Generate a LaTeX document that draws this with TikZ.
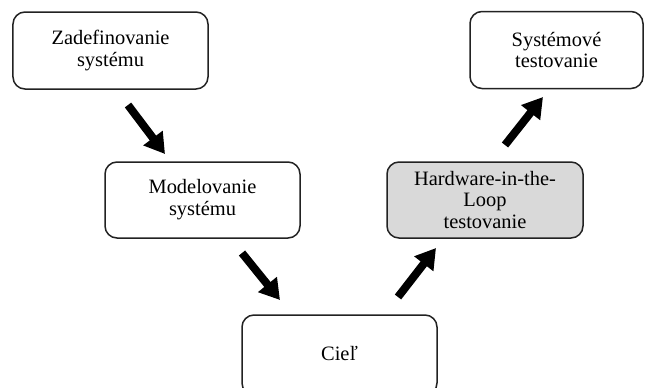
\documentclass[tikz,border=0pt]{standalone}
\usepackage{fontspec}
\setmainfont{Liberation Serif}
\usetikzlibrary{arrows.meta}
\definecolor{edgegray}{HTML}{222222}
\definecolor{hilfill}{HTML}{D9D9D9}
\begin{document}
\begin{tikzpicture}[x=1bp,y=-1bp,
  stage/.style={draw=edgegray, line width=1.5bp, rounded corners=12bp,
    fill=white, align=center, inner sep=0pt,
    font=\fontsize{20.5}{22}\selectfont},
  flow/.style={line width=8bp, black,
    -{Triangle[width=23bp,length=20bp]}}]
  \useasboundingbox (0,0) rectangle (654,387);
  \fill[white] (0,0) rectangle (654,387);

  % process stages
  \node[stage, minimum width=195bp, minimum height=77bp] (def) at (110.5,50.5)
    {Zadefinovanie\\systému};
  \node[stage, minimum width=195bp, minimum height=76bp] (model) at (202.5,200)
    {Modelovanie\\systému};
  \node[stage, minimum width=195bp, minimum height=80bp] (goal) at (339.5,355)
    {\raisebox{3bp}{Cieľ}};
  \node[stage, fill=hilfill, minimum width=196bp, minimum height=76bp] (hil) at (485,200)
    {Hardware-in-the-\\Loop\\testovanie};
  \node[stage, minimum width=173bp, minimum height=77bp] (sys) at (556.5,50)
    {Systémové\\testovanie};

  % arrow end points between the stages
  \coordinate (a1s) at (128,105);  \coordinate (a1e) at (165,154);
  \coordinate (a2s) at (242,253);  \coordinate (a2e) at (280,300);
  \coordinate (a3s) at (398,297);  \coordinate (a3e) at (436,248);
  \coordinate (a4s) at (505,145);  \coordinate (a4e) at (543,97);

  \draw[flow] (a1s) -- (a1e);
  \draw[flow] (a2s) -- (a2e);
  \draw[flow] (a3s) -- (a3e);
  \draw[flow] (a4s) -- (a4e);
\end{tikzpicture}
\end{document}
